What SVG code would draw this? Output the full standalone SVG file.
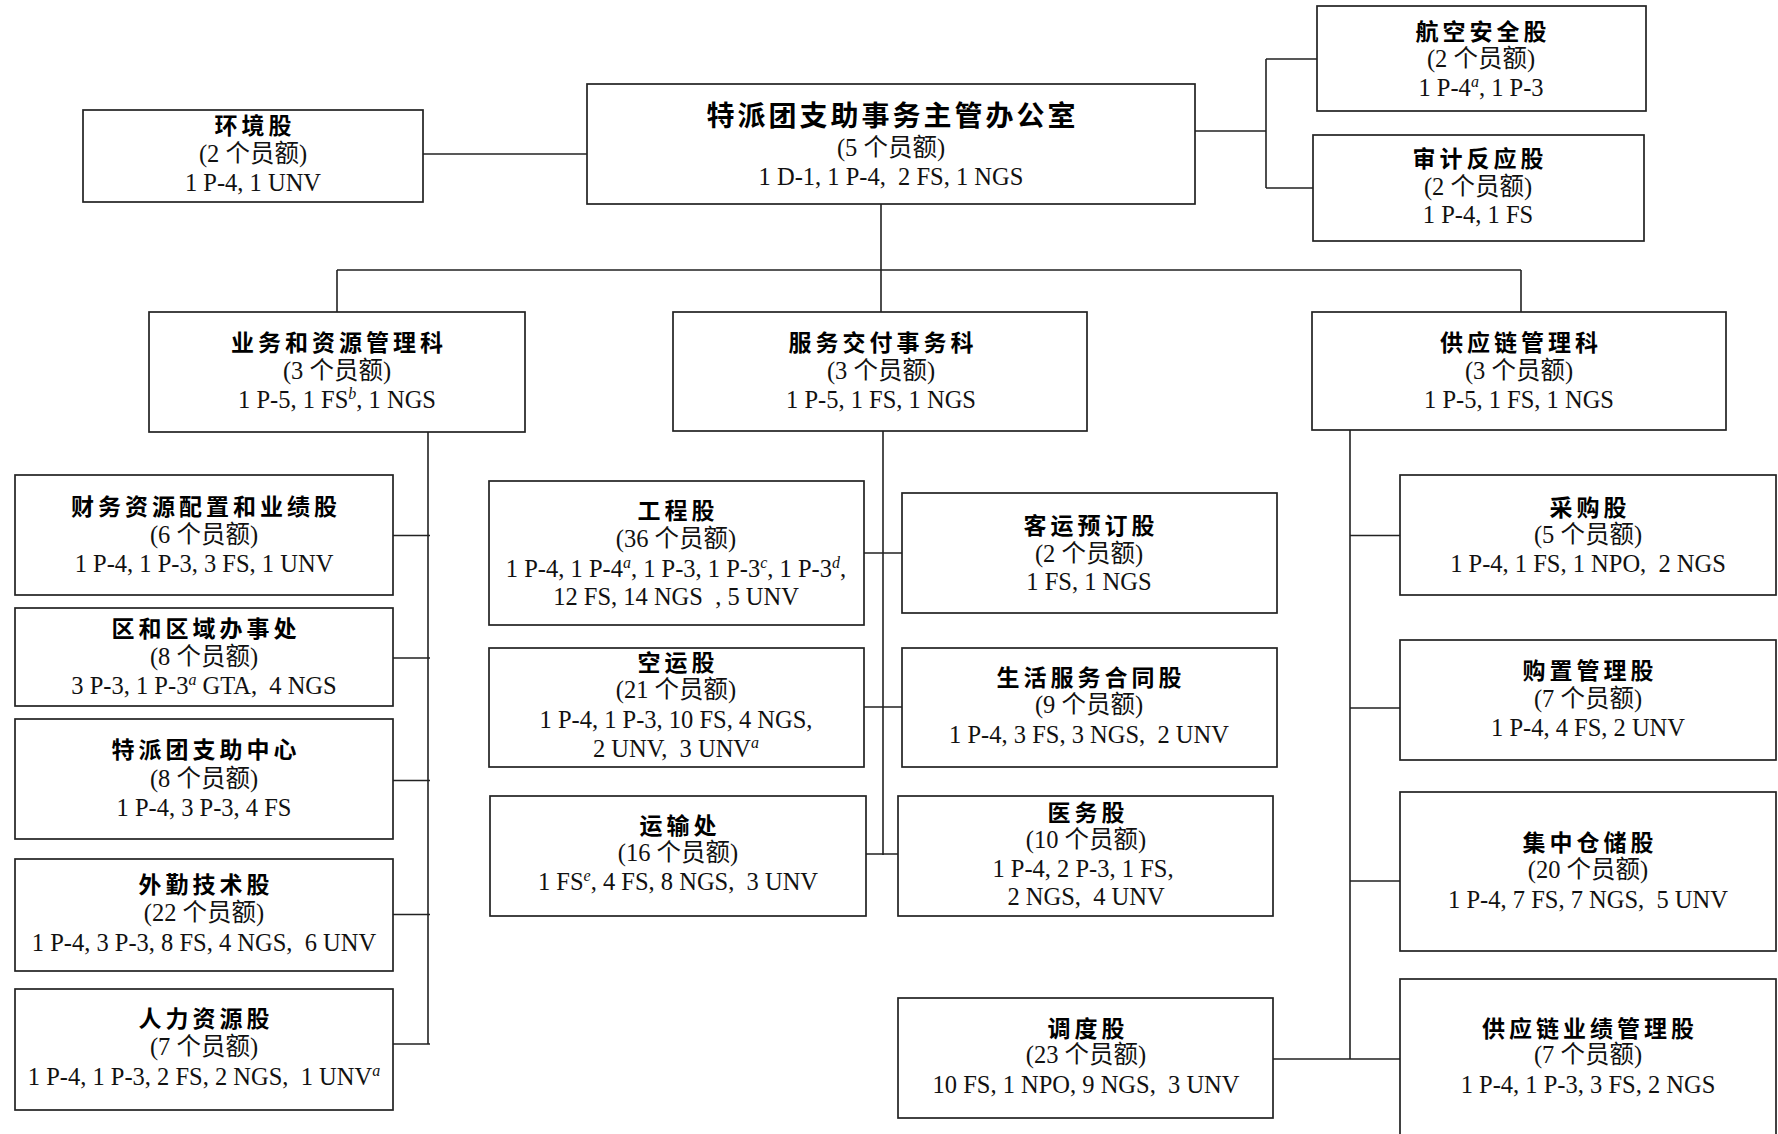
<svg xmlns="http://www.w3.org/2000/svg" width="1778" height="1134" viewBox="0 0 1778 1134">
<style>
.box{fill:#fff;stroke:#222;stroke-width:1.7}
.ln{stroke:#222;stroke-width:1.6;fill:none}
.t{font-family:"Noto Sans CJK SC",sans-serif;font-weight:700;font-size:23px;letter-spacing:4px;text-anchor:middle;fill:#000}
.tm{font-family:"Noto Sans CJK SC",sans-serif;font-weight:700;font-size:28px;letter-spacing:3px;text-anchor:middle;fill:#000}
.s{font-family:"Liberation Serif","Noto Sans CJK SC",serif;font-size:24.5px;text-anchor:middle;fill:#111;white-space:pre}
.sup{font-size:16px;font-style:italic}
</style>
<rect width="1778" height="1134" fill="#fff"/>
<g id="connectors">
<path class="ln" d="M423,154H587"/>
<path class="ln" d="M1195,131H1266M1266,59V188M1266,59H1317M1266,188H1313"/>
<path class="ln" d="M881,204V312M337,270H1521M337,270V312M1521,270V312"/>
<path class="ln" d="M428,432V1044M393,535.5H430M393,658H430M393,780.5H430M393,914.5H430M393,1044H430"/>
<path class="ln" d="M883,431V855M864,553H902M864,707H902M866,854H898"/>
<path class="ln" d="M1350,430V1059M1350,535.5H1400M1350,708H1400M1350,881H1400M1273,1059H1400"/>
</g>
<g id="n-env"><rect class="box" x="83" y="110" width="340" height="92"/>
<text class="t" x="255" y="134">环境股</text><text class="s" x="253" y="162">(2 个员额)</text><text class="s" x="253" y="191">1 P-4, 1 UNV</text></g>
<g id="n-main"><rect class="box" x="587" y="84" width="608" height="120"/>
<text class="tm" x="892.5" y="126">特派团支助事务主管办公室</text><text class="s" x="891" y="156">(5 个员额)</text><text class="s" x="891" y="185">1 D-1, 1 P-4,  2 FS, 1 NGS</text></g>
<g id="n-avsec"><rect class="box" x="1317" y="6" width="329" height="105"/>
<text class="t" x="1483" y="40">航空安全股</text><text class="s" x="1481" y="67">(2 个员额)</text><text class="s" x="1481" y="96">1 P-4<tspan class="sup" dy="-9">a</tspan><tspan dy="9">, 1 P-3</tspan></text></g>
<g id="n-audit"><rect class="box" x="1313" y="135" width="331" height="106"/>
<text class="t" x="1480" y="167">审计反应股</text><text class="s" x="1478" y="195">(2 个员额)</text><text class="s" x="1478" y="223">1 P-4, 1 FS</text></g>
<g id="n-ops"><rect class="box" x="149" y="312" width="376" height="120"/>
<text class="t" x="339" y="351">业务和资源管理科</text><text class="s" x="337" y="379">(3 个员额)</text><text class="s" x="337" y="408">1 P-5, 1 FS<tspan class="sup" dy="-9">b</tspan><tspan dy="9">, 1 NGS</tspan></text></g>
<g id="n-svc"><rect class="box" x="673" y="312" width="414" height="119"/>
<text class="t" x="883" y="351">服务交付事务科</text><text class="s" x="881" y="379">(3 个员额)</text><text class="s" x="881" y="408">1 P-5, 1 FS, 1 NGS</text></g>
<g id="n-scm"><rect class="box" x="1312" y="312" width="414" height="118"/>
<text class="t" x="1521" y="351">供应链管理科</text><text class="s" x="1519" y="379">(3 个员额)</text><text class="s" x="1519" y="408">1 P-5, 1 FS, 1 NGS</text></g>
<g id="n-fin"><rect class="box" x="15" y="475" width="378" height="120"/>
<text class="t" x="206" y="515">财务资源配置和业绩股</text><text class="s" x="204" y="543">(6 个员额)</text><text class="s" x="204" y="572">1 P-4, 1 P-3, 3 FS, 1 UNV</text></g>
<g id="n-reg"><rect class="box" x="15" y="608" width="378" height="98"/>
<text class="t" x="206" y="637">区和区域办事处</text><text class="s" x="204" y="665">(8 个员额)</text><text class="s" x="204" y="694">3 P-3, 1 P-3<tspan class="sup" dy="-9">a</tspan><tspan dy="9"> GTA,  4 NGS</tspan></text></g>
<g id="n-msc"><rect class="box" x="15" y="719" width="378" height="120"/>
<text class="t" x="206" y="758">特派团支助中心</text><text class="s" x="204" y="787">(8 个员额)</text><text class="s" x="204" y="816">1 P-4, 3 P-3, 4 FS</text></g>
<g id="n-fts"><rect class="box" x="15" y="859" width="378" height="112"/>
<text class="t" x="206" y="893">外勤技术股</text><text class="s" x="204" y="921">(22 个员额)</text><text class="s" x="204" y="951">1 P-4, 3 P-3, 8 FS, 4 NGS,  6 UNV</text></g>
<g id="n-hr"><rect class="box" x="15" y="989" width="378" height="121"/>
<text class="t" x="206" y="1027">人力资源股</text><text class="s" x="204" y="1055">(7 个员额)</text><text class="s" x="204" y="1085">1 P-4, 1 P-3, 2 FS, 2 NGS,  1 UNV<tspan class="sup" dy="-9">a</tspan></text></g>
<g id="n-eng"><rect class="box" x="489" y="481" width="375" height="144"/>
<text class="t" x="678" y="519">工程股</text><text class="s" x="676" y="547">(36 个员额)</text>
<text class="s" x="676" y="577">1 P-4, 1 P-4<tspan class="sup" dy="-9">a</tspan><tspan dy="9">, 1 P-3, 1 P-3</tspan><tspan class="sup" dy="-9">c</tspan><tspan dy="9">, 1 P-3</tspan><tspan class="sup" dy="-9">d</tspan><tspan dy="9">,</tspan></text>
<text class="s" x="676" y="605">12 FS, 14 NGS  , 5 UNV</text></g>
<g id="n-air"><rect class="box" x="489" y="648" width="375" height="119"/>
<text class="t" x="678" y="671">空运股</text><text class="s" x="676" y="698">(21 个员额)</text>
<text class="s" x="676" y="728">1 P-4, 1 P-3, 10 FS, 4 NGS,</text><text class="s" x="676" y="757">2 UNV,  3 UNV<tspan class="sup" dy="-9">a</tspan></text></g>
<g id="n-trans"><rect class="box" x="490" y="796" width="376" height="120"/>
<text class="t" x="680" y="834">运输处</text><text class="s" x="678" y="861">(16 个员额)</text><text class="s" x="678" y="890">1 FS<tspan class="sup" dy="-9">e</tspan><tspan dy="9">, 4 FS, 8 NGS,  3 UNV</tspan></text></g>
<g id="n-mov"><rect class="box" x="902" y="493" width="375" height="120"/>
<text class="t" x="1091" y="534">客运预订股</text><text class="s" x="1089" y="562">(2 个员额)</text><text class="s" x="1089" y="590">1 FS, 1 NGS</text></g>
<g id="n-life"><rect class="box" x="902" y="648" width="375" height="119"/>
<text class="t" x="1091" y="686">生活服务合同股</text><text class="s" x="1089" y="713">(9 个员额)</text><text class="s" x="1089" y="743">1 P-4, 3 FS, 3 NGS,  2 UNV</text></g>
<g id="n-med"><rect class="box" x="898" y="796" width="375" height="120"/>
<text class="t" x="1088" y="821">医务股</text><text class="s" x="1086" y="848">(10 个员额)</text>
<text class="s" x="1083" y="877">1 P-4, 2 P-3, 1 FS,</text><text class="s" x="1086" y="905">2 NGS,  4 UNV</text></g>
<g id="n-proc"><rect class="box" x="1400" y="475" width="376" height="120"/>
<text class="t" x="1590" y="516">采购股</text><text class="s" x="1588" y="543">(5 个员额)</text><text class="s" x="1588" y="572">1 P-4, 1 FS, 1 NPO,  2 NGS</text></g>
<g id="n-acq"><rect class="box" x="1400" y="640" width="376" height="120"/>
<text class="t" x="1590" y="679">购置管理股</text><text class="s" x="1588" y="707">(7 个员额)</text><text class="s" x="1588" y="736">1 P-4, 4 FS, 2 UNV</text></g>
<g id="n-whs"><rect class="box" x="1400" y="792" width="376" height="159"/>
<text class="t" x="1590" y="851">集中仓储股</text><text class="s" x="1588" y="878">(20 个员额)</text><text class="s" x="1588" y="908">1 P-4, 7 FS, 7 NGS,  5 UNV</text></g>
<g id="n-scp"><rect class="box" x="1400" y="979" width="376" height="170"/>
<text class="t" x="1590" y="1037">供应链业绩管理股</text><text class="s" x="1588" y="1063">(7 个员额)</text><text class="s" x="1588" y="1093">1 P-4, 1 P-3, 3 FS, 2 NGS</text></g>
<g id="n-disp"><rect class="box" x="898" y="998" width="375" height="120"/>
<text class="t" x="1088" y="1037">调度股</text><text class="s" x="1086" y="1063">(23 个员额)</text><text class="s" x="1086" y="1093">10 FS, 1 NPO, 9 NGS,  3 UNV</text></g>
</svg>
